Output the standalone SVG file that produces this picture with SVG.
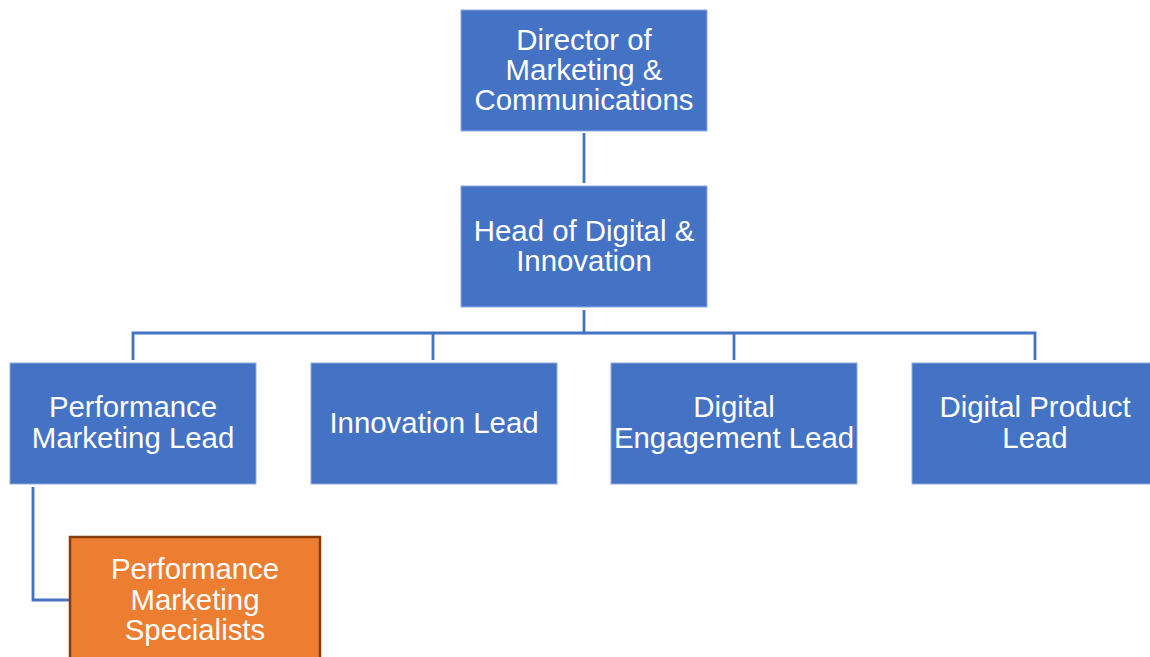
<svg xmlns="http://www.w3.org/2000/svg" width="1150" height="657" viewBox="0 0 1150 657">
<style>
.box{fill:#4472C4;stroke:#8FAADC;stroke-width:1}
.org{fill:#ED7D31;stroke:#843C0C;stroke-width:2.5}
.t{font-family:"Liberation Sans",Arial,sans-serif;font-size:29.4px;fill:#fff;text-anchor:middle}
.c{fill:none;stroke:#4472C4;stroke-width:2.8}
</style>
<rect width="1150" height="657" fill="#fff"/>
<g id="connectors">
<path class="c" d="M584 133V183"/>
<path class="c" d="M584 310V333"/>
<path class="c" d="M133 360V333H1035V360"/>
<path class="c" d="M433 333V360"/>
<path class="c" d="M734 333V360"/>
<path class="c" d="M33 487V600H70"/>
</g>
<g id="director">
<rect class="box" x="461" y="10" width="246" height="121"/>
<text class="t" x="584" y="50">Director of</text>
<text class="t" x="584" y="80">Marketing &amp;</text>
<text class="t" x="584" y="110">Communications</text>
</g>
<g id="head">
<rect class="box" x="461" y="186" width="246" height="121"/>
<text class="t" x="584" y="241">Head of Digital &amp;</text>
<text class="t" x="584" y="271">Innovation</text>
</g>
<g id="perf-lead">
<rect class="box" x="10" y="363" width="246" height="121"/>
<text class="t" x="133" y="417">Performance</text>
<text class="t" x="133" y="448">Marketing Lead</text>
</g>
<g id="innov-lead">
<rect class="box" x="311" y="363" width="246" height="121"/>
<text class="t" x="434" y="433">Innovation Lead</text>
</g>
<g id="engage-lead">
<rect class="box" x="611" y="363" width="246" height="121"/>
<text class="t" x="734" y="417">Digital</text>
<text class="t" x="734" y="448">Engagement Lead</text>
</g>
<g id="product-lead">
<rect class="box" x="912" y="363" width="246" height="121"/>
<text class="t" x="1035" y="417">Digital Product</text>
<text class="t" x="1035" y="448">Lead</text>
</g>
<g id="perf-specialists">
<rect class="org" x="70" y="537" width="250" height="130"/>
<text class="t" x="195" y="579">Performance</text>
<text class="t" x="195" y="610">Marketing</text>
<text class="t" x="195" y="640">Specialists</text>
</g>
</svg>
